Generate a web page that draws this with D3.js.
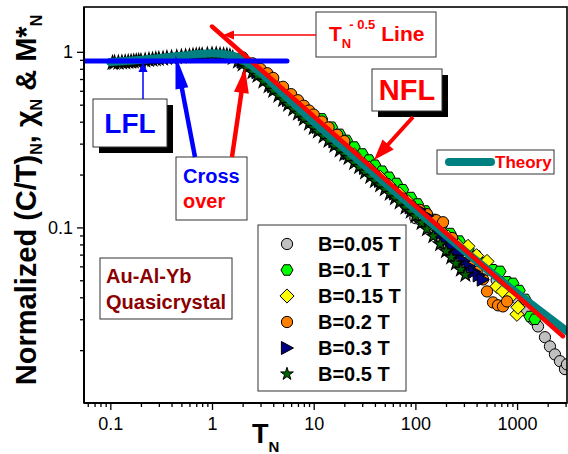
<!DOCTYPE html>
<html><head><meta charset="utf-8">
<script src="https://cdn.jsdelivr.net/npm/d3@7"></script>
<style>body{margin:0;background:#fff}svg{display:block}</style>
</head><body><svg id="c" width="568" height="454"></svg>
<script>
// ---------------- DATA ----------------
const xTickMajors = [0.1, 1, 10, 100, 1000];
const xTickLabels = ["0.1", "1", "10", "100", "1000"];
const yTickMajors = [0.1, 1];
const yTickLabels = ["0.1", "1"];
const legendLabels = ["B=0.05 T", "B=0.1 T", "B=0.15 T", "B=0.2 T", "B=0.3 T", "B=0.5 T"];

// B = 0.05 T (gray circles)
const b005T = [2.2, 3.3, 5, 7.5, 11, 17, 25, 38, 55, 80, 100, 111, 125, 145, 170, 200, 250, 320, 400, 500, 630, 800, 1000, 1250, 1450, 1606, 1880, 2105, 2358, 2642, 2958, 3097];
const b005V = [0.865, 0.724, 0.577, 0.467, 0.382, 0.307, 0.253, 0.205, 0.170, 0.135, 0.113, 0.111, 0.106, 0.1007, 0.0955, 0.0902, 0.0809, 0.0721, 0.0641, 0.0574, 0.0501, 0.0447, 0.0394, 0.0333, 0.0298, 0.0273, 0.0237, 0.0210, 0.0189, 0.0173, 0.0156, 0.0166];
// B = 0.1 T (green hexagons)
const b01T = [3, 5, 8, 12, 15, 18, 21, 25, 30, 35, 40, 47, 55, 65, 75, 90, 105, 125, 150, 180, 220, 270, 330, 400, 480, 580, 679, 800, 910, 1050, 1200, 1340, 1500];
const b01V = [0.760, 0.577, 0.450, 0.415, 0.372, 0.339, 0.313, 0.287, 0.262, 0.242, 0.226, 0.209, 0.193, 0.178, 0.164, 0.148, 0.136, 0.124, 0.111, 0.102, 0.0923, 0.0836, 0.0755, 0.0687, 0.0628, 0.0574, 0.0562, 0.049, 0.048, 0.0437, 0.0389, 0.0311, 0.0300];
// B = 0.15 T (yellow diamonds)
const b015T = [3, 4, 6, 9, 13, 18, 25, 35, 45, 55, 70, 85, 100, 120, 145, 175, 210, 260, 329, 400, 506, 634, 726, 851, 997, 1020];
const b015V = [0.778, 0.667, 0.536, 0.433, 0.357, 0.305, 0.259, 0.218, 0.193, 0.174, 0.155, 0.140, 0.126, 0.116, 0.105, 0.0961, 0.0881, 0.0794, 0.078, 0.069, 0.064, 0.0461, 0.0432, 0.040, 0.032, 0.0351];
// B = 0.2 T (orange circles)
const b02T = [2, 2.5, 3, 3.5, 4, 5, 6, 7, 8, 9, 10, 12, 14, 17, 20, 25, 30, 40, 50, 60, 75, 90, 110, 130, 160, 187, 230, 280, 340, 400, 462, 506, 580, 650, 726, 796];
const b02V = [0.93, 0.86, 0.80, 0.755, 0.710, 0.632, 0.574, 0.530, 0.493, 0.463, 0.439, 0.401, 0.371, 0.337, 0.310, 0.253, 0.231, 0.200, 0.179, 0.163, 0.146, 0.133, 0.126, 0.119, 0.110, 0.107, 0.087, 0.074, 0.063, 0.056, 0.0506, 0.0432, 0.0374, 0.0360, 0.0355, 0.0379];
// B = 0.3 T (navy triangles)
const b03T = [2, 2.8, 4, 5.6, 8, 11, 16, 22, 32, 45, 63, 90, 110, 130, 150, 175, 200, 230, 265, 300, 340, 380, 420, 460];
const b03V = [0.879, 0.766, 0.637, 0.531, 0.440, 0.373, 0.309, 0.264, 0.218, 0.184, 0.156, 0.130, 0.126, 0.116, 0.104, 0.0918, 0.0841, 0.0767, 0.0702, 0.0644, 0.0598, 0.0560, 0.0533, 0.0504];
// B = 0.5 T (dark green stars)
const b05T = [0.105, 0.11, 0.12, 0.13, 0.14, 0.15, 0.16, 0.17, 0.18, 0.19, 0.2, 0.22, 0.24, 0.26, 0.28, 0.3, 0.33, 0.36, 0.4, 0.45, 0.5, 0.55, 0.6, 0.65, 0.7, 0.75, 0.8, 0.9, 1.0, 1.1, 1.2, 1.3, 1.4, 1.5, 1.6, 1.8, 2.0, 2.2, 2.5, 2.8, 3.2, 3.6, 4, 4.5, 5, 5.6, 6.3, 7, 8, 9, 10, 11, 12.5, 14, 16, 18, 20, 22, 25, 28, 32, 36, 40, 45, 50, 56, 63, 70, 80, 90, 100, 115, 130, 150, 175, 200, 225, 250, 280, 310];
const b05V = [0.866, 0.867, 0.869, 0.871, 0.873, 0.877, 0.879, 0.882, 0.885, 0.887, 0.889, 0.893, 0.899, 0.904, 0.908, 0.912, 0.916, 0.923, 0.927, 0.933, 0.940, 0.942, 0.946, 0.951, 0.955, 0.957, 0.959, 0.964, 0.968, 0.966, 0.962, 0.957, 0.953, 0.944, 0.923, 0.881, 0.849, 0.807, 0.766, 0.731, 0.678, 0.637, 0.601, 0.564, 0.532, 0.501, 0.471, 0.446, 0.415, 0.390, 0.369, 0.352, 0.330, 0.312, 0.292, 0.275, 0.261, 0.249, 0.233, 0.221, 0.206, 0.194, 0.184, 0.174, 0.165, 0.156, 0.147, 0.139, 0.130, 0.123, 0.116, 0.106, 0.0977, 0.0891, 0.0804, 0.0733, 0.0676, 0.0624, 0.0575, 0.0537];

// Theory curve
const theoryT = [0.1, 0.2, 0.5, 1, 1.5, 2, 3, 5, 10, 30, 100, 300, 1000, 3100];
const theoryV = [0.875, 0.90, 0.95, 0.98, 0.96, 0.90, 0.76, 0.577, 0.40, 0.231, 0.1265, 0.074, 0.0422, 0.0256];
// T^-0.5 line end points
const powT = [1.0, 2826];
const powV = [1.393, 0.0240];
// LFL horizontal line end points
const lflT = [0.0551, 5.46];
const lflV = [0.886, 0.886];

// ---------------- DRAW ----------------
const FONT = "'Liberation Sans', Arial, Helvetica, sans-serif";
const svg = d3.select("#c");
const L = 84, R = 567, T0 = 7, B0 = 403;
const x = d3.scaleLog().domain([0.0551, 3097]).range([L, R]);
const y = d3.scaleLog().domain([0.01, 1.8]).range([B0, T0]);

svg.append("defs").append("clipPath").attr("id", "clip")
  .append("rect").attr("x", L).attr("y", T0).attr("width", R - L).attr("height", B0 - T0);

// symbol types
const hexType = { draw(ctx, size) { const r = Math.sqrt(size / 2.6);
  for (let i = 0; i < 6; i++) { const a = Math.PI / 3 * i; const px = r * Math.cos(a), py = r * Math.sin(a);
    if (i === 0) ctx.moveTo(px, py); else ctx.lineTo(px, py); } ctx.closePath(); } };
const diamondType = { draw(ctx, size) { const r = Math.sqrt(size / 2);
  ctx.moveTo(0, -r); ctx.lineTo(r, 0); ctx.lineTo(0, r); ctx.lineTo(-r, 0); ctx.closePath(); } };
const triRType = { draw(ctx, size) { const r = Math.sqrt(size / 2.2);
  ctx.moveTo(r * 1.05, 0); ctx.lineTo(-r * 0.9, -r * 1.05); ctx.lineTo(-r * 0.9, r * 1.05); ctx.closePath(); } };

const series = [
  { t: b005T, v: b005V, type: d3.symbolCircle, size: 100, fill: "#C0C0C0", sw: 1 },
  { t: b01T, v: b01V, type: hexType, size: 95, fill: "#00FF00", sw: 1 },
  { t: b015T, v: b015V, type: diamondType, size: 100, fill: "#FFFF00", sw: 1 },
  { t: b02T, v: b02V, type: d3.symbolCircle, size: 100, fill: "#FF8000", sw: 1 },
  { t: b03T, v: b03V, type: triRType, size: 85, fill: "#000080", sw: 1 },
  { t: b05T, v: b05V, type: d3.symbolStar, size: 58, fill: "#006400", sw: 1.2 }
];

const plot = svg.append("g").attr("clip-path", "url(#clip)");
series.forEach(s => {
  const sym = d3.symbol().type(s.type).size(s.size);
  plot.append("g").selectAll("path").data(s.t.map((t, i) => [t, s.v[i]])).join("path")
    .attr("d", sym).attr("transform", d => `translate(${x(d[0])},${y(d[1])})`)
    .attr("fill", s.fill).attr("stroke", "#000").attr("stroke-width", s.sw);
});

const line = d3.line().x(d => x(d[0])).y(d => y(d[1]));
plot.append("path").datum(theoryT.map((t, i) => [t, theoryV[i]]))
  .attr("d", line.curve(d3.curveMonotoneX)).attr("fill", "none")
  .attr("stroke", "#008080").attr("stroke-width", 8).attr("stroke-linecap", "round");
const line2 = d3.line().x(d => x(d[0])).y(d => y(d[1]));
plot.append("path").datum(powT.map((t, i) => [t, powV[i]]))
  .attr("d", line2).attr("fill", "none").attr("stroke", "#FF0000").attr("stroke-width", 4.5).attr("stroke-linecap", "round");
plot.append("path").datum(lflT.map((t, i) => [t, lflV[i]]))
  .attr("d", line2).attr("fill", "none").attr("stroke", "#0000FF").attr("stroke-width", 5).attr("stroke-linecap", "round");

// axes
const xMinor = [], yMinor = [];
[0.01, 0.1, 1, 10, 100, 1000].forEach(d => { for (let k = 2; k <= 9; k++) { const v = d * k; if (v > 0.0551 && v < 3097) xMinor.push(v); } });
[0.01, 0.1, 1].forEach(d => { for (let k = 2; k <= 9; k++) { const v = d * k; if (v < 1.8) yMinor.push(v); } });

function styleAxis(g) {
  g.selectAll("text").attr("font-family", FONT).attr("font-size", 18).attr("fill", "#000");
  g.selectAll("line").attr("stroke", "#000").attr("stroke-width", 1.3);
  g.select(".domain").remove();
}
svg.append("g").attr("transform", `translate(0,${B0})`)
  .call(d3.axisBottom(x).tickValues(xMinor).tickSize(4).tickFormat("")).call(styleAxis);
svg.append("g").attr("transform", `translate(0,${B0})`)
  .call(d3.axisBottom(x).tickValues(xTickMajors).tickSize(7).tickPadding(7)
    .tickFormat((d, i) => xTickLabels[i])).call(styleAxis);
svg.append("g").attr("transform", `translate(${L},0)`)
  .call(d3.axisLeft(y).tickValues(yMinor).tickSize(4).tickFormat("")).call(styleAxis);
svg.append("g").attr("transform", `translate(${L},0)`)
  .call(d3.axisLeft(y).tickValues(yTickMajors).tickSize(7).tickPadding(4)
    .tickFormat((d, i) => yTickLabels[i])).call(styleAxis);

svg.append("rect").attr("x", L).attr("y", T0).attr("width", R - L).attr("height", B0 - T0)
  .attr("fill", "none").attr("stroke", "#000").attr("stroke-width", 1.6);
svg.append("line").attr("x1", L).attr("x2", L).attr("y1", T0).attr("y2", B0).attr("stroke", "#000").attr("stroke-width", 2);
svg.append("line").attr("x1", L).attr("x2", R).attr("y1", B0).attr("y2", B0).attr("stroke", "#000").attr("stroke-width", 2);

// axis titles
const yl = svg.append("text").attr("transform", "translate(36,200) rotate(-90)")
  .attr("text-anchor", "middle").attr("font-family", FONT).attr("font-weight", "bold").attr("font-size", 29);
yl.append("tspan").text("Normalized (C/T)");
yl.append("tspan").attr("font-size", 16).attr("dy", 6).text("N");
yl.append("tspan").attr("dy", -6).text(", \u03C7");
yl.append("tspan").attr("font-size", 16).attr("dy", 6).text("N");
yl.append("tspan").attr("dy", -6).text(" & M*");
yl.append("tspan").attr("font-size", 16).attr("dy", 6).text("N");

const xl = svg.append("text").attr("x", 252).attr("y", 443).attr("font-family", FONT).attr("font-weight", "bold").attr("font-size", 27);
xl.append("tspan").text("T");
xl.append("tspan").attr("font-size", 15).attr("dy", 9).text("N");

// helper
function box(x0, y0, w, h, shadow) {
  if (shadow) svg.append("rect").attr("x", x0 + 6).attr("y", y0 + 6).attr("width", w).attr("height", h).attr("fill", "#000");
  svg.append("rect").attr("x", x0).attr("y", y0).attr("width", w).attr("height", h)
    .attr("fill", "#fff").attr("stroke", "#333").attr("stroke-width", 1);
}
function txt(x0, y0, s, size, color, anchor) {
  return svg.append("text").attr("x", x0).attr("y", y0).attr("font-family", FONT).attr("font-weight", "bold")
    .attr("font-size", size).attr("fill", color).attr("text-anchor", anchor || "start").text(s);
}
function arrow(x1, y1, x2, y2, color, w, hl, hw) {
  const dx = x2 - x1, dy = y2 - y1, len = Math.hypot(dx, dy), ux = dx / len, uy = dy / len;
  const bx = x2 - ux * hl, by = y2 - uy * hl;
  svg.append("line").attr("x1", x1).attr("y1", y1).attr("x2", x2 - ux * hl * 0.5).attr("y2", y2 - uy * hl * 0.5)
    .attr("stroke", color).attr("stroke-width", w);
  svg.append("path").attr("d", `M${x2},${y2}L${bx - uy * hw},${by + ux * hw}L${bx + uy * hw},${by - ux * hw}Z`).attr("fill", color);
}

// T^-0.5 annotation
box(316, 12, 120, 45, false);
const tp = svg.append("text").attr("x", 329).attr("y", 41).attr("font-family", FONT).attr("font-weight", "bold").attr("font-size", 21).attr("fill", "#FF0000");
tp.append("tspan").text("T");
tp.append("tspan").attr("font-size", 13).attr("dy", 7).text("N");
tp.append("tspan").attr("font-size", 13).attr("dx", -2).attr("dy", -19).text("- 0.5");
tp.append("tspan").attr("dx", 6).attr("dy", 12).text("Line");
arrow(316, 35, 223, 35, "#FF0000", 1.5, 11, 4.5);

// NFL
box(372, 69, 70, 42, true);
txt(407, 100, "NFL", 29, "#FF0000", "middle");
arrow(413, 117, 374, 160, "#FF0000", 4, 21, 7.5);

// LFL
box(93, 99, 74, 48, true);
txt(130, 133, "LFL", 28, "#0000FF", "middle");
arrow(143, 99, 143, 62, "#0000FF", 1.5, 10, 4.5);

// Cross over
box(176, 157, 71, 63, false);
txt(183, 183, "Cross", 20, "#0000FF");
txt(183, 208, "over", 20, "#FF0000");
arrow(195, 157, 175.5, 55, "#0000FF", 4.5, 34, 6.5);
arrow(232, 157, 245, 68, "#FF0000", 4.5, 25, 7.5);

// Theory legend
box(437, 150, 117, 24, false);
svg.append("line").attr("x1", 449).attr("x2", 491).attr("y1", 162).attr("y2", 162)
  .attr("stroke", "#008080").attr("stroke-width", 8).attr("stroke-linecap", "round");
txt(495, 168, "Theory", 17, "#FF0000");

// Au-Al-Yb
box(100, 258, 132, 61, false);
txt(106, 283, "Au-Al-Yb", 20, "#8B0000");
txt(106, 309, "Quasicrystal", 20, "#8B0000");

// Series legend
box(258, 225, 148, 166, false);
series.forEach((s, i) => {
  const yy = 244 + i * 26;
  svg.append("path").attr("d", d3.symbol().type(s.type).size(s.type === d3.symbolStar ? 50 : s.size)())
    .attr("transform", `translate(287,${yy})`).attr("fill", s.fill).attr("stroke", "#000").attr("stroke-width", 1);
  txt(318, yy + 7, legendLabels[i], 20, "#000");
});
</script></body></html>
